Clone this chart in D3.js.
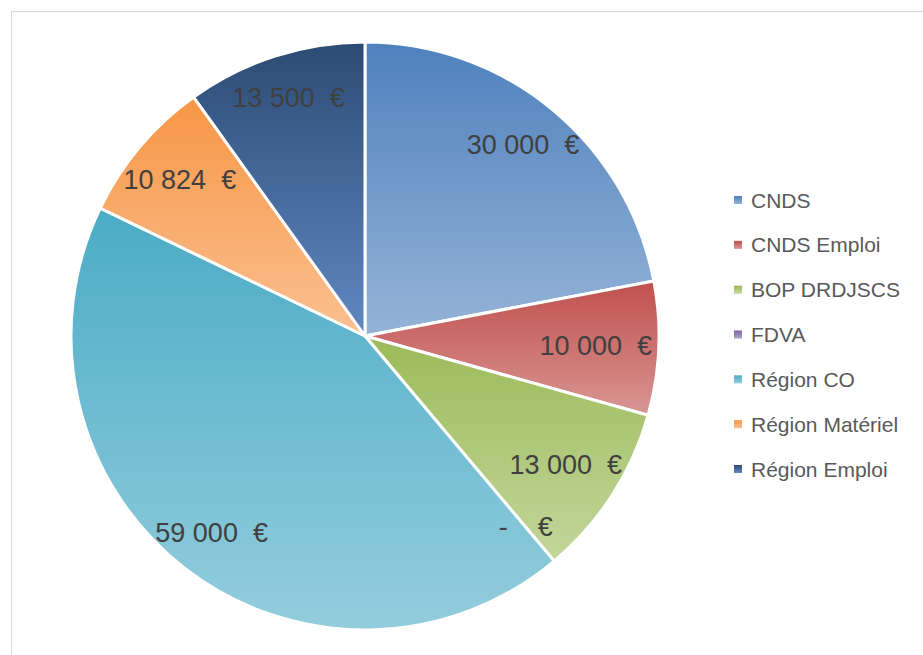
<!DOCTYPE html>
<html lang="fr">
<head>
<meta charset="UTF-8">
<title>Financements</title>
<script src="https://d3js.org/d3.v7.min.js"></script>
<style>
  body { margin: 0; background: #fff; }
  text { font-family: "Liberation Sans", Arial, sans-serif; }
</style>
</head>
<body>
<div id="chart"></div>
<script>
// données
const categories = ["CNDS", "CNDS Emploi", "BOP DRDJSCS", "FDVA", "Région CO", "Région Matériel", "Région Emploi"];
const values = [30000, 10000, 13000, 0, 59000, 10824, 13500];
const colorsTop = ["#4f81bd", "#c0504d", "#9bbb59", "#8064a2", "#4bacc6", "#f79646", "#2c4b74"];
const colorsBottom = ["#95b3d7", "#d99694", "#c3d69b", "#b3a2c7", "#93cddd", "#fac090", "#6088c2"];

const W = 923, H = 655;
const cx = 365, cy = 336, R = 294;

const svg = d3.select("#chart").append("svg")
  .attr("width", W).attr("height", H);

// cadre
svg.append("rect")
  .attr("x", 11.5).attr("y", 11.5)
  .attr("width", W + 20).attr("height", H + 20)
  .attr("fill", "none").attr("stroke", "#d9d9d9");

const defs = svg.append("defs");
categories.forEach((c, i) => {
  const g = defs.append("linearGradient")
    .attr("id", "grad" + i)
    .attr("x1", 0).attr("y1", 0).attr("x2", 0).attr("y2", 1);
  g.append("stop").attr("offset", "0%").attr("stop-color", colorsTop[i]);
  g.append("stop").attr("offset", "100%").attr("stop-color", colorsBottom[i]);
});

const data = categories.map((c, i) => ({ name: c, value: values[i], i }));

const pie = d3.pie().sort(null).value(d => d.value);
const arcs = pie(data);
const arc = d3.arc().innerRadius(0).outerRadius(R);

const g = svg.append("g").attr("transform", `translate(${cx},${cy})`);

g.selectAll("path.slice")
  .data(arcs.filter(d => d.data.value > 0))
  .join("path")
  .attr("class", "slice")
  .attr("d", arc)
  .attr("fill", d => `url(#grad${d.data.i})`)
  .attr("stroke", "#fff")
  .attr("stroke-width", 3)
  .attr("stroke-linejoin", "round");

// étiquettes
const fmt = v => v === 0 ? "-    €" : d3.format(",")(v).replace(/,/g, " ") + "  €";
const labelFont = 27;

const labels = g.selectAll("text.lbl")
  .data(arcs)
  .join("text")
  .attr("class", "lbl")
  .attr("text-anchor", "middle")
  .attr("dominant-baseline", "central")
  .attr("font-size", labelFont)
  .attr("fill", "#404040")
  .style("white-space", "pre")
  .text(d => fmt(d.data.value));

labels.each(function(d) {
  const w = this.getComputedTextLength();
  const a = (d.startAngle + d.endAngle) / 2;
  let r = R * 0.85;
  // ramener l'étiquette vers le centre si elle dépasse du disque
  for (let k = 0; k < 60; k++) {
    const x = r * Math.sin(a), y = -r * Math.cos(a);
    const ex = x + Math.sign(Math.sin(a)) * w / 2;
    if (Math.hypot(ex, y) <= R - 6) break;
    r -= 1;
  }
  d3.select(this)
    .attr("x", r * Math.sin(a))
    .attr("y", -r * Math.cos(a));
});

// légende
const legend = svg.append("g").attr("transform", "translate(734,200)");
const ly = d3.scalePoint().domain(categories).range([0, 269]);

const items = legend.selectAll("g")
  .data(data)
  .join("g")
  .attr("transform", d => `translate(0,${ly(d.name)})`);

items.append("rect")
  .attr("x", 0).attr("y", -4)
  .attr("width", 8).attr("height", 8)
  .attr("fill", d => `url(#grad${d.i})`);

items.append("text")
  .attr("x", 17)
  .attr("dominant-baseline", "central")
  .attr("font-size", 21)
  .attr("fill", "#595959")
  .text(d => d.name);
</script>
</body>
</html>
